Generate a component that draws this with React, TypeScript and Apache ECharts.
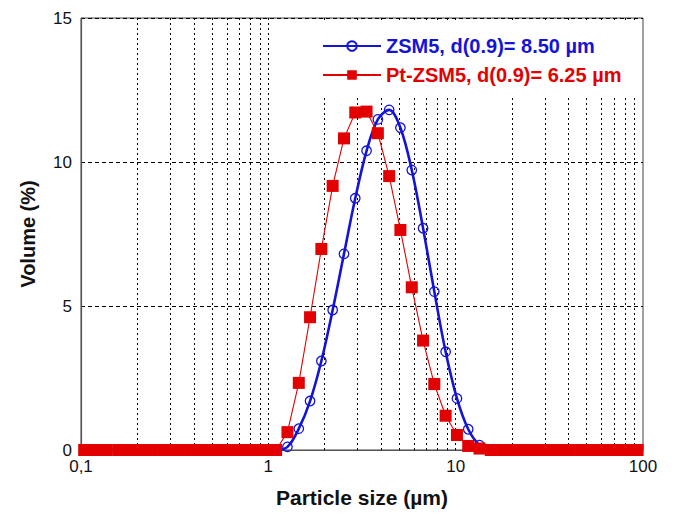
import React, { useEffect, useRef } from "react";
import * as echarts from "echarts";

// Particle size bins (µm)
const sizes = [
  0.104, 0.119, 0.137, 0.158, 0.181, 0.208, 0.239, 0.275, 0.316, 0.363,
  0.417, 0.479, 0.55, 0.632, 0.726, 0.834, 0.959, 1.1, 1.265, 1.454,
  1.67, 1.919, 2.205, 2.534, 2.911, 3.345, 3.843, 4.416, 5.07, 5.83,
  6.7, 7.69, 8.84, 10.16, 11.67, 13.41, 15.4, 17.7, 20.3, 23.4,
  26.8, 30.8, 35.4, 40.7, 46.8, 53.7, 61.7, 70.9, 81.5, 93.6,
];

// Volume (%) for ZSM5
const zsm5 = [
  0, 0, 0, 0, 0, 0, 0, 0, 0, 0,
  0, 0, 0, 0, 0, 0, 0, 0, 0.11, 0.74,
  1.7, 3.09, 4.86, 6.81, 8.74, 10.39, 11.48, 11.81, 11.19, 9.72,
  7.7, 5.5, 3.41, 1.79, 0.72, 0.17, 0, 0, 0, 0,
  0, 0, 0, 0, 0, 0, 0, 0, 0, 0,
];

// Volume (%) for Pt-ZSM5
const ptZsm5 = [
  0, 0, 0, 0, 0, 0, 0, 0, 0, 0,
  0, 0, 0, 0, 0, 0, 0, 0, 0.62, 2.33,
  4.61, 6.98, 9.17, 10.82, 11.72, 11.75, 11.0, 9.51, 7.64, 5.65,
  3.8, 2.29, 1.19, 0.52, 0.14, 0.05, 0, 0, 0, 0,
  0, 0, 0, 0, 0, 0, 0, 0, 0, 0,
];

const seriesNames = ["ZSM5, d(0.9)= 8.50 \u00b5m", "Pt-ZSM5, d(0.9)= 6.25 \u00b5m"];

// Vertical grid positions (log minor + decade ticks)
const verticalGrid = [
  0.2, 0.3, 0.4, 0.5, 0.6, 0.7, 0.8, 0.9, 1,
  2, 3, 4, 5, 6, 7, 8, 9, 10,
  20, 30, 40, 50, 60, 70, 80, 90,
];

const xTickLabels: Record<string, string> = { "0.1": "0,1", "1": "1", "10": "10", "100": "100" };
const yTicks = [0, 5, 10, 15];

const FONT = "'Liberation Sans', Arial, Helvetica, sans-serif";
const BLUE = "#1414d6";
const RED = "#e20000";

export default function App() {
  const ref = useRef<HTMLDivElement>(null);

  useEffect(() => {
    if (!ref.current) return;
    const chart = echarts.init(ref.current, undefined, { renderer: "svg" });
    const zip = (ys: number[]) => sizes.map((x, i) => [x, ys[i]]);

    chart.setOption({
      animation: false,
      backgroundColor: "#fff",
      grid: {
        left: 81,
        top: 18,
        right: 32,
        bottom: 64,
        show: true,
        borderColor: "#444",
        borderWidth: 1,
        backgroundColor: "transparent",
      },
      legend: {
        orient: "vertical",
        left: 302,
        top: 23,
        z: 10,
        backgroundColor: "#fff",
        padding: [13, 16, 10, 20],
        itemWidth: 58,
        itemHeight: 12,
        itemGap: 9,
        selectedMode: false,
        textStyle: { fontSize: 20, fontWeight: "bold", fontFamily: FONT, lineHeight: 20 },
        data: [
          { name: seriesNames[0], textStyle: { color: BLUE } },
          { name: seriesNames[1], textStyle: { color: RED } },
        ],
      },
      xAxis: {
        type: "log",
        logBase: 10,
        min: 0.1,
        max: 100,
        name: "Particle size (\u00b5m)",
        nameLocation: "middle",
        nameGap: 37,
        nameTextStyle: { fontSize: 21, fontWeight: "bold", fontFamily: FONT, color: "#111" },
        axisLine: { show: true, lineStyle: { color: "#555", width: 1.2 } },
        axisTick: { show: false },
        splitLine: { show: false },
        axisLabel: {
          fontSize: 17,
          fontFamily: FONT,
          color: "#111",
          margin: 8,
          formatter: (v: number) => {
            const key = String(Math.round(v * 1000) / 1000);
            return xTickLabels[key] ?? key;
          },
        },
      },
      yAxis: {
        type: "value",
        min: yTicks[0],
        max: yTicks[yTicks.length - 1],
        interval: 5,
        name: "Volume (%)",
        nameLocation: "middle",
        nameGap: 43,
        nameTextStyle: { fontSize: 20, fontWeight: "bold", fontFamily: FONT, color: "#111" },
        axisLine: { show: true, lineStyle: { color: "#555", width: 1.2 } },
        axisTick: { show: false },
        splitLine: { show: true, lineStyle: { color: "#000", width: 1, type: [4, 3] } },
        axisLabel: { fontSize: 17, fontFamily: FONT, color: "#111", margin: 9 },
      },
      series: [
        {
          name: seriesNames[0],
          type: "line",
          data: zip(zsm5),
          smooth: 0.35,
          z: 3,
          symbol: "circle",
          symbolSize: 9.5,
          showAllSymbol: true,
          lineStyle: { color: BLUE, width: 2.6 },
          itemStyle: { color: "transparent", borderColor: BLUE, borderWidth: 1.3 },
          markLine: {
            silent: true,
            z: 1,
            symbol: ["none", "none"],
            label: { show: false },
            lineStyle: { color: "#000", width: 1, type: [2, 3] },
            emphasis: { disabled: true },
            data: verticalGrid.map((v) => ({ xAxis: v })),
          },
        },
        {
          name: seriesNames[1],
          type: "line",
          data: zip(ptZsm5),
          z: 4,
          symbol: "rect",
          symbolSize: 12,
          showAllSymbol: true,
          lineStyle: { color: RED, width: 1.1 },
          itemStyle: { color: RED },
        },
      ],
    });

    return () => chart.dispose();
  }, []);

  return (
    <div
      ref={ref}
      style={{ position: "absolute", left: 0, top: 0, width: 675, height: 514, background: "#fff" }}
    />
  );
}
